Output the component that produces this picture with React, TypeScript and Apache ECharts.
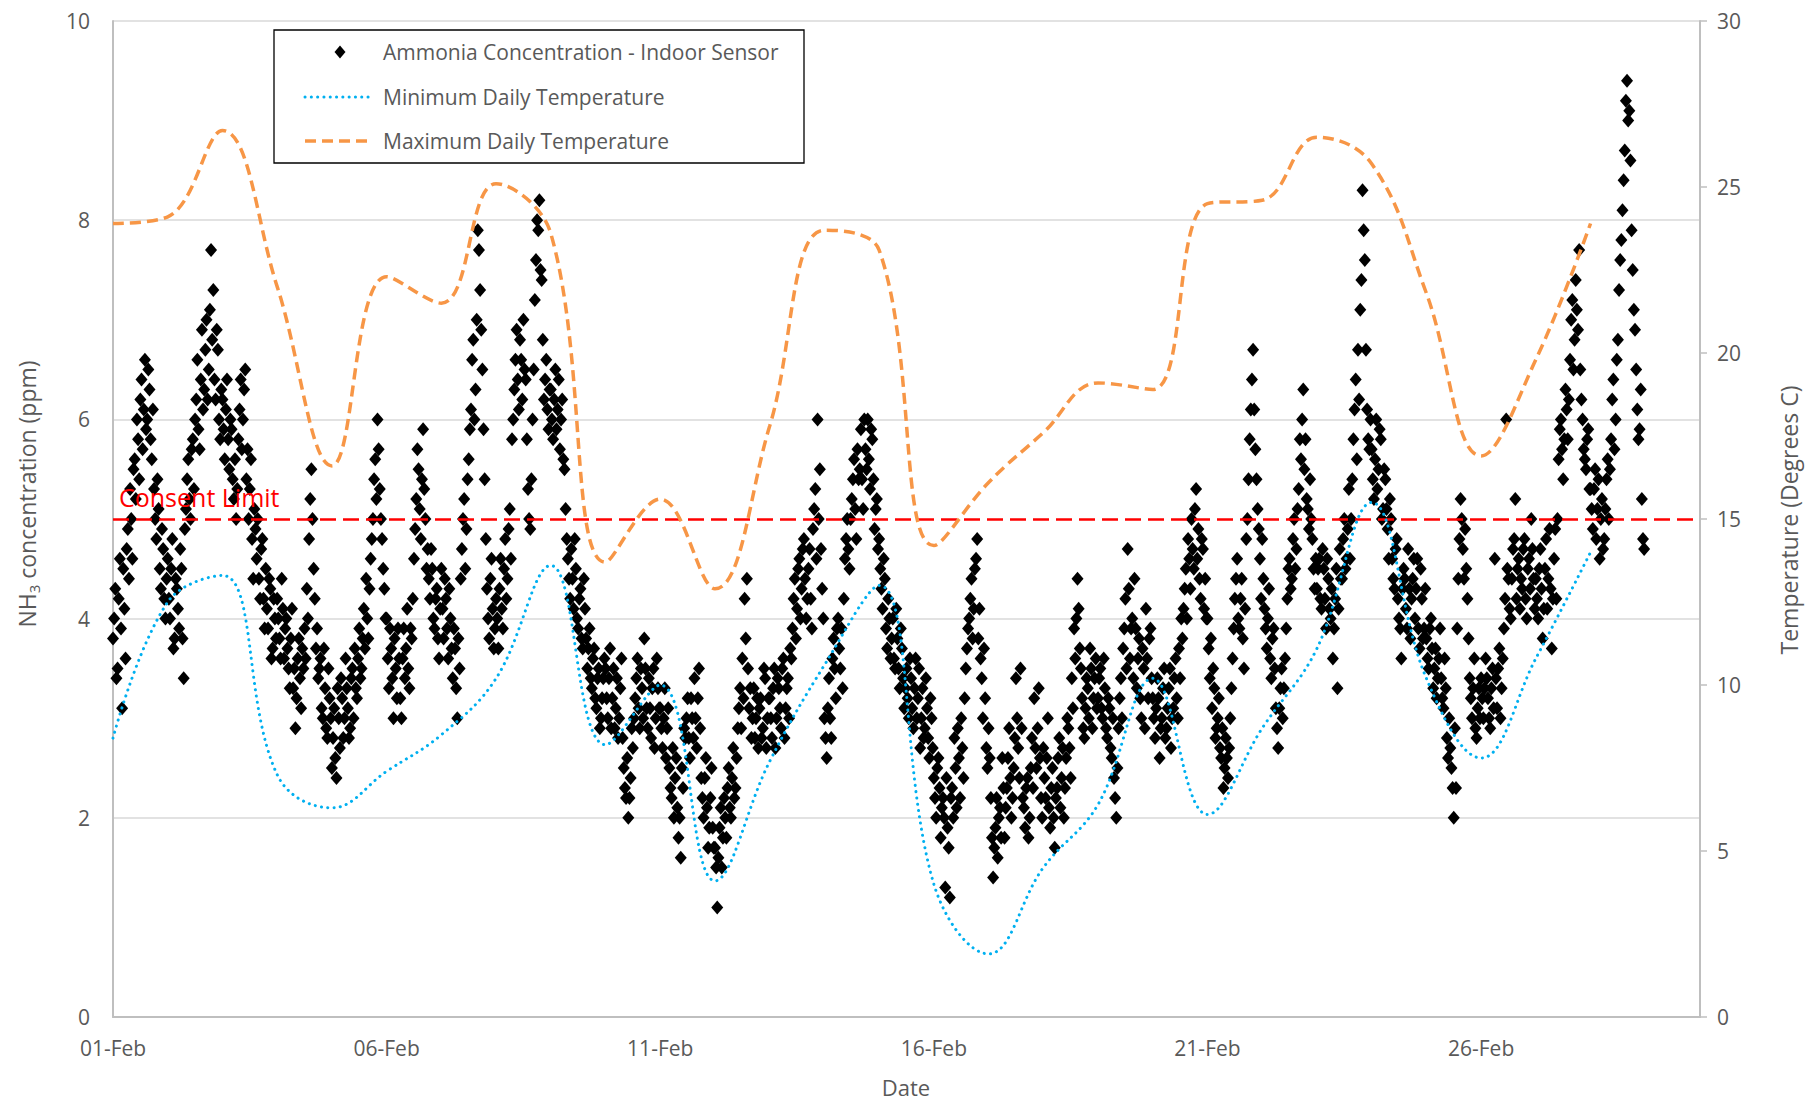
import React, { useEffect, useRef } from 'react';
import * as echarts from 'echarts';

const FONT = '"Open Sans", "Noto Sans", sans-serif';
const TEXT_COLOR = '#595959';

// x-axis tick labels (every 5 days starting 01-Feb)
const xTickLabels = ['01-Feb', '06-Feb', '11-Feb', '16-Feb', '21-Feb', '26-Feb'];

const seriesNames = [
  'Ammonia Concentration - Indoor Sensor',
  'Minimum Daily Temperature',
  'Maximum Daily Temperature',
];

// Daily temperatures (Degrees C), one value per day, 01-Feb .. 28-Feb
const maxDailyTemp = [23.9, 24.1, 26.7, 22.0, 16.6, 22.3, 21.5, 25.1, 23.6, 13.7, 15.6, 12.9, 17.8, 23.7,
  23.1, 14.2, 16.1, 17.6, 19.1, 18.9, 24.5, 24.6, 26.5, 25.7, 21.8, 16.9, 19.8, 23.9];
const minDailyTemp = [8.4, 12.5, 13.3, 7.3, 6.3, 7.4, 8.5, 10.2, 13.6, 8.2, 10.0, 4.1, 7.7, 10.6,
  13.0, 4.0, 1.9, 4.5, 6.4, 10.2, 6.1, 8.7, 11.1, 15.5, 10.2, 7.8, 10.8, 14.0];

// Consent limit for NH3 (ppm)
const consentLimit = 5;

// Half-hourly NH3 readings (ppm), 48 per day
const feb01 = [3.8, 4.0, 4.3, 3.4, 3.5, 4.2, 4.6, 3.9, 3.1, 4.5, 4.1, 3.6, 4.7, 4.9, 4.4, 5.3, 5.0, 4.6, 5.5, 5.6, 5.2, 6.0, 5.8, 5.4, 6.2, 6.4, 5.7, 6.1, 6.6, 5.9, 6.0, 6.5, 6.3, 5.8, 5.6, 6.1, 5.3, 5.0, 4.8, 5.4, 5.1, 4.5, 4.3, 4.9, 4.7, 4.2, 4.0, 4.4];
const feb02 = [4.6, 4.2, 4.0, 4.5, 4.8, 3.7, 3.8, 4.4, 4.3, 4.1, 3.9, 4.7, 4.5, 3.8, 3.4, 4.9, 5.1, 5.4, 5.6, 5.2, 5.0, 5.7, 5.8, 5.3, 6.0, 6.2, 6.6, 5.9, 5.7, 6.4, 6.9, 6.1, 6.3, 6.7, 7.0, 6.2, 6.5, 7.1, 7.7, 6.8, 7.3, 6.4, 6.2, 6.9, 6.7, 6.0, 5.8, 6.3];
const feb03 = [6.2, 5.9, 5.6, 6.1, 6.4, 5.8, 5.5, 6.0, 5.9, 5.4, 5.2, 5.6, 5.0, 5.3, 5.8, 6.1, 6.4, 5.7, 6.0, 6.3, 6.5, 5.4, 5.7, 5.0, 5.3, 5.6, 4.8, 4.4, 5.1, 4.9, 4.6, 5.0, 4.4, 4.2, 4.7, 4.8, 4.2, 3.9, 4.5, 4.1, 3.9, 4.4, 4.3, 3.6, 3.7, 4.2, 4.0, 3.8];
const feb04 = [4.2, 4.0, 3.8, 3.6, 4.4, 4.1, 3.6, 3.9, 4.0, 3.7, 3.5, 3.3, 3.8, 4.1, 3.3, 3.5, 2.9, 3.2, 3.6, 3.8, 3.4, 3.1, 3.7, 3.5, 3.9, 3.6, 4.3, 4.0, 4.8, 5.2, 5.5, 5.0, 4.5, 4.2, 3.7, 3.9, 3.4, 3.5, 3.6, 3.1, 3.0, 3.7, 3.3, 2.9, 2.8, 3.5, 3.2, 3.0];
const feb05 = [2.5, 2.8, 3.1, 2.6, 2.4, 3.3, 3.0, 2.7, 3.4, 3.2, 2.8, 3.0, 3.6, 3.3, 3.1, 2.8, 2.9, 3.4, 3.5, 3.0, 3.7, 3.3, 3.2, 3.6, 3.9, 3.4, 3.5, 3.8, 4.1, 3.7, 4.4, 4.0, 3.8, 4.3, 4.6, 4.8, 5.0, 5.4, 5.6, 5.2, 6.0, 5.7, 5.3, 5.0, 4.8, 4.5, 4.3, 4.0];
const feb06 = [4.0, 3.6, 3.3, 3.9, 3.7, 3.4, 3.0, 3.8, 3.5, 3.2, 3.9, 3.6, 3.2, 3.0, 3.6, 3.9, 3.4, 3.7, 4.1, 3.5, 3.3, 3.9, 3.8, 4.2, 4.6, 4.9, 5.2, 5.7, 5.5, 5.1, 4.8, 5.4, 5.9, 5.3, 5.0, 4.5, 4.7, 4.4, 4.2, 4.7, 4.5, 4.0, 3.9, 4.2, 4.3, 3.8, 3.6, 4.1];
const feb07 = [4.5, 4.1, 3.8, 4.4, 4.2, 3.9, 3.6, 4.3, 4.0, 3.7, 3.4, 3.9, 3.7, 3.3, 3.0, 3.8, 3.5, 4.4, 4.7, 5.0, 5.2, 4.5, 4.9, 5.4, 5.6, 5.9, 6.1, 6.6, 6.8, 6.0, 6.3, 7.0, 7.9, 7.7, 7.3, 6.9, 6.5, 5.9, 5.4, 4.8, 4.3, 4.0, 3.8, 4.4, 4.6, 4.1, 3.7, 3.9];
const feb08 = [4.2, 4.0, 3.7, 4.3, 4.6, 4.1, 3.9, 4.5, 4.8, 4.2, 4.4, 4.9, 5.1, 4.6, 5.8, 6.0, 6.3, 6.6, 6.9, 6.4, 6.1, 6.8, 6.6, 6.2, 7.0, 6.5, 6.4, 5.8, 5.3, 5.0, 4.9, 5.4, 6.0, 6.5, 7.2, 7.6, 8.0, 7.9, 8.2, 7.5, 7.4, 6.8, 6.2, 6.4, 6.6, 6.1, 5.9, 6.3];
const feb09 = [6.3, 6.0, 5.8, 6.2, 6.5, 5.9, 6.1, 6.4, 5.7, 6.0, 6.2, 5.6, 5.5, 5.1, 4.8, 4.6, 4.4, 4.2, 4.7, 4.4, 4.1, 4.8, 4.5, 4.0, 3.9, 4.2, 4.3, 3.8, 3.7, 4.4, 4.1, 3.8, 3.5, 3.7, 3.9, 3.4, 3.3, 3.6, 3.7, 3.2, 3.1, 3.4, 3.5, 2.9, 3.0, 3.2, 3.4, 3.6];
const feb10 = [3.5, 3.2, 3.0, 3.4, 3.7, 2.9, 3.2, 3.5, 2.9, 3.1, 3.4, 2.8, 3.0, 3.3, 3.6, 2.8, 2.5, 2.3, 2.2, 2.6, 2.0, 2.2, 2.4, 2.9, 2.7, 3.0, 3.2, 3.4, 3.6, 3.1, 2.9, 3.5, 3.3, 3.0, 3.8, 3.5, 3.1, 2.9, 3.4, 3.1, 2.8, 3.3, 3.5, 2.7, 3.0, 3.6, 3.3, 3.1];
const feb11 = [3.1, 2.9, 2.7, 3.0, 3.3, 2.6, 2.9, 3.1, 2.5, 2.3, 2.2, 2.7, 2.0, 2.4, 2.6, 2.1, 1.8, 2.0, 1.6, 2.5, 2.3, 2.9, 2.8, 3.0, 3.2, 2.8, 2.6, 3.2, 3.0, 2.8, 3.4, 3.0, 2.7, 3.2, 3.5, 2.9, 2.4, 2.2, 2.0, 2.4, 2.6, 2.1, 1.7, 1.9, 2.2, 2.5, 1.9, 1.7];
const feb12 = [1.7, 1.5, 1.1, 1.6, 1.9, 2.1, 1.5, 1.8, 2.2, 2.0, 1.8, 2.3, 2.5, 2.1, 2.0, 2.4, 2.7, 2.2, 2.3, 2.6, 2.9, 3.1, 3.3, 2.9, 3.6, 3.2, 4.2, 3.8, 4.4, 3.5, 3.1, 3.3, 2.8, 3.0, 3.3, 2.8, 3.0, 3.2, 2.7, 3.1, 3.2, 2.8, 2.9, 3.5, 3.4, 2.7, 3.0, 3.2];
const feb13 = [3.2, 3.0, 2.8, 3.3, 3.5, 2.7, 3.0, 3.4, 3.3, 3.1, 2.9, 3.5, 3.6, 2.8, 3.1, 3.3, 3.4, 3.0, 3.7, 3.6, 3.9, 4.2, 4.4, 3.8, 4.1, 4.5, 4.6, 4.0, 4.3, 4.7, 4.8, 4.4, 4.0, 4.2, 4.5, 4.7, 4.2, 3.9, 4.9, 5.1, 5.3, 4.6, 6.0, 5.0, 5.5, 4.7, 4.3, 4.0];
const feb14 = [3.0, 2.8, 2.6, 3.1, 3.4, 3.0, 2.8, 3.6, 3.8, 3.5, 3.2, 3.9, 4.0, 3.7, 3.5, 3.9, 3.3, 4.2, 4.6, 4.8, 5.0, 4.7, 4.5, 5.0, 5.2, 5.4, 5.6, 5.1, 4.8, 5.7, 5.4, 5.5, 5.9, 5.4, 5.1, 6.0, 5.7, 5.5, 6.0, 5.6, 5.3, 5.9, 5.8, 5.4, 4.9, 5.1, 5.2, 4.7];
const feb15 = [4.8, 4.5, 4.3, 4.1, 4.6, 4.4, 3.9, 3.7, 4.2, 4.0, 3.6, 3.8, 4.0, 3.6, 3.5, 4.1, 3.8, 3.5, 3.3, 3.9, 3.7, 3.4, 3.1, 3.3, 3.5, 3.2, 3.0, 3.6, 3.4, 3.1, 2.9, 3.3, 3.6, 3.0, 3.2, 3.5, 2.7, 3.0, 3.3, 2.8, 2.9, 3.4, 3.1, 2.8, 2.6, 3.2, 3.0, 2.7];
const feb16 = [2.4, 2.2, 2.0, 2.5, 2.6, 2.3, 1.8, 2.1, 2.2, 2.0, 1.3, 2.4, 1.9, 1.7, 1.2, 2.2, 2.3, 2.0, 2.8, 2.5, 2.1, 2.9, 2.6, 2.2, 3.0, 2.7, 2.4, 3.2, 3.5, 3.7, 3.9, 4.0, 4.2, 4.4, 3.8, 4.1, 4.5, 4.6, 4.8, 3.8, 4.1, 3.6, 3.4, 3.0, 3.7, 3.2, 2.7, 2.5];
const feb17 = [2.9, 2.6, 2.2, 1.8, 1.4, 1.7, 1.9, 2.2, 1.6, 2.0, 2.1, 1.8, 2.6, 2.3, 1.8, 2.1, 2.3, 2.6, 2.9, 2.4, 2.0, 2.2, 2.5, 2.8, 3.4, 3.0, 2.7, 2.4, 3.5, 2.9, 2.2, 2.1, 1.9, 2.3, 2.4, 1.8, 2.0, 2.5, 2.8, 2.3, 3.2, 2.7, 2.5, 2.9, 3.3, 2.6, 2.2, 2.0];
const feb18 = [2.7, 2.4, 2.2, 2.6, 3.0, 2.1, 1.9, 2.3, 2.5, 2.0, 1.7, 2.2, 2.3, 2.6, 2.8, 2.1, 2.4, 2.7, 2.0, 2.3, 2.6, 3.0, 2.9, 2.7, 2.4, 3.4, 3.1, 3.9, 3.6, 4.0, 4.4, 4.1, 3.7, 3.5, 3.2, 2.9, 2.8, 3.1, 3.4, 3.3, 3.0, 3.7, 3.5, 2.9, 3.2, 3.4, 3.6, 3.1];
const feb19 = [3.2, 3.4, 3.5, 3.1, 3.0, 3.6, 3.3, 2.9, 2.8, 3.2, 3.1, 2.7, 2.6, 3.0, 2.4, 2.2, 2.0, 2.5, 2.9, 3.2, 3.4, 3.0, 3.7, 3.9, 4.2, 3.5, 4.7, 4.3, 3.6, 3.9, 4.0, 3.4, 4.4, 3.9, 3.3, 3.6, 3.8, 3.2, 3.0, 3.7, 3.5, 2.9, 4.1, 3.6, 3.2, 3.8, 3.9, 3.4];
const feb20 = [3.2, 3.0, 2.8, 3.1, 3.4, 3.2, 2.6, 2.9, 3.0, 3.3, 3.5, 2.8, 2.9, 3.1, 3.3, 3.5, 2.7, 3.0, 3.1, 3.4, 3.6, 3.2, 3.0, 3.7, 3.4, 4.0, 3.8, 4.1, 4.3, 4.5, 4.0, 4.8, 4.6, 4.3, 5.0, 4.7, 4.5, 5.1, 5.3, 4.6, 4.9, 4.4, 4.2, 4.8, 4.7, 4.1, 4.4, 4.0];
const feb21 = [4.0, 3.7, 3.4, 3.8, 3.1, 3.5, 3.3, 2.8, 2.9, 3.0, 3.2, 2.7, 2.6, 2.9, 2.3, 2.5, 2.8, 2.6, 2.4, 2.7, 3.0, 3.3, 3.6, 3.9, 4.2, 4.4, 4.6, 4.0, 3.9, 4.2, 4.4, 3.8, 3.5, 4.1, 4.8, 5.0, 5.4, 5.8, 6.1, 6.4, 6.7, 6.1, 5.7, 5.4, 5.1, 4.9, 4.6, 4.2];
const feb22 = [4.8, 4.4, 4.1, 3.9, 3.7, 4.0, 4.3, 3.6, 3.4, 3.8, 3.9, 3.5, 3.1, 2.9, 2.7, 3.1, 3.3, 3.5, 3.0, 3.3, 3.6, 3.9, 4.2, 4.5, 4.6, 4.3, 4.4, 4.8, 5.0, 4.5, 4.7, 5.1, 5.3, 5.8, 5.6, 6.0, 6.3, 5.5, 5.8, 5.2, 5.1, 4.9, 5.4, 5.0, 4.8, 4.5, 4.3, 4.6];
const feb23 = [4.3, 4.5, 4.6, 4.2, 4.1, 4.7, 4.5, 4.2, 3.9, 4.6, 4.4, 4.1, 4.0, 4.3, 3.6, 3.9, 4.2, 4.5, 3.3, 4.1, 4.7, 4.4, 4.4, 4.8, 5.0, 4.5, 4.6, 4.9, 5.3, 4.6, 5.0, 5.4, 5.8, 6.1, 6.4, 5.6, 6.7, 6.2, 7.1, 7.4, 8.3, 7.9, 7.6, 6.7, 6.1, 5.8, 5.7, 6.0];
const feb24 = [5.7, 5.4, 5.2, 5.6, 6.0, 5.3, 5.5, 5.9, 5.8, 5.0, 5.1, 5.5, 5.4, 5.1, 4.9, 4.6, 5.2, 5.0, 4.6, 4.4, 4.3, 4.7, 4.8, 4.2, 4.0, 3.9, 3.6, 4.3, 4.5, 4.4, 4.1, 3.9, 4.7, 4.3, 3.8, 4.2, 4.4, 4.6, 4.0, 4.3, 4.6, 3.9, 3.7, 4.5, 4.2, 3.8, 3.9, 4.3];
const feb25 = [3.8, 3.6, 3.5, 3.9, 4.0, 3.7, 3.3, 3.5, 3.7, 3.2, 3.4, 3.6, 3.9, 3.4, 3.2, 3.1, 3.6, 3.3, 2.8, 2.6, 3.0, 2.7, 2.5, 2.3, 2.0, 2.9, 2.3, 3.9, 4.4, 4.8, 5.2, 5.0, 4.7, 4.4, 4.9, 4.5, 4.2, 3.8, 3.4, 3.2, 3.0, 3.3, 3.6, 2.9, 2.8, 3.1, 3.3, 3.0];
const feb26 = [3.4, 3.2, 3.0, 3.3, 3.6, 3.4, 3.2, 3.0, 2.9, 3.3, 3.5, 3.1, 4.6, 3.4, 3.1, 3.5, 3.7, 3.0, 3.3, 3.6, 3.9, 4.2, 6.0, 4.5, 4.4, 4.1, 4.0, 4.4, 4.7, 4.8, 5.2, 4.2, 4.5, 4.6, 4.1, 4.4, 4.3, 4.7, 4.8, 4.2, 4.0, 4.5, 4.6, 4.3, 5.0, 4.7, 4.4, 4.1];
const feb27 = [4.4, 4.2, 4.0, 4.5, 4.7, 4.3, 3.8, 4.1, 4.5, 4.8, 4.1, 4.4, 4.9, 4.3, 3.7, 4.2, 4.6, 4.9, 4.2, 5.0, 5.6, 5.9, 6.0, 5.7, 5.4, 5.8, 6.3, 6.1, 5.8, 6.2, 6.6, 7.0, 7.2, 6.5, 6.8, 7.4, 7.1, 6.9, 7.7, 6.5, 6.2, 6.0, 5.7, 5.6, 5.5, 5.8, 5.9, 5.3];
const feb28 = [5.3, 5.1, 4.9, 5.3, 5.5, 4.8, 5.1, 5.4, 4.6, 5.0, 5.2, 4.7, 4.8, 5.1, 5.4, 5.6, 5.0, 5.5, 5.8, 6.2, 6.4, 5.7, 6.0, 6.6, 6.8, 7.3, 7.6, 7.8, 8.1, 8.4, 8.7, 9.2, 9.4, 9.0, 9.1, 8.6, 7.9, 7.5, 7.1, 6.9, 6.5, 6.1, 5.8, 5.9, 6.3, 5.2, 4.8, 4.7];

const ammoniaByDay = [feb01, feb02, feb03, feb04, feb05, feb06, feb07, feb08, feb09, feb10, feb11, feb12, feb13, feb14,
  feb15, feb16, feb17, feb18, feb19, feb20, feb21, feb22, feb23, feb24, feb25, feb26, feb27, feb28];

export default function App() {
  const ref = useRef<HTMLDivElement>(null);

  useEffect(() => {
    if (!ref.current) return;
    const chart = echarts.init(ref.current, null, { renderer: 'svg' });

    const scatterData = ammoniaByDay.flatMap((vals, d) => vals.map((v, i) => [d + i / vals.length, v]));
    const minData = minDailyTemp.map((t, d) => [d, t]);
    const maxData = maxDailyTemp.map((t, d) => [d, t]);

    const legendRows = [52, 97, 141];

    const option: any = {
      animation: false,
      backgroundColor: '#ffffff',
      textStyle: { fontFamily: FONT },
      grid: { left: 113, right: 107, top: 21, bottom: 85 },
      xAxis: {
        type: 'value',
        min: 0,
        max: 29,
        interval: 5,
        axisLine: { show: true, onZero: false, lineStyle: { color: '#bfbfbf', width: 2 } },
        axisTick: { show: false },
        splitLine: { show: false },
        axisLabel: {
          margin: 20,
          fontSize: 21,
          color: TEXT_COLOR,
          fontFamily: FONT,
          showMaxLabel: false,
          formatter: (v: number) => (Number.isInteger(v / 5) ? xTickLabels[v / 5] ?? '' : ''),
        },
      },
      yAxis: [
        {
          type: 'value',
          min: 0,
          max: 10,
          interval: 2,
          position: 'left',
          axisLine: { show: true, onZero: false, lineStyle: { color: '#bfbfbf', width: 2 } },
          axisTick: { show: false },
          splitLine: { show: true, lineStyle: { color: '#d9d9d9', width: 1.5 } },
          axisLabel: { margin: 23, fontSize: 21, color: TEXT_COLOR, fontFamily: FONT },
        },
        {
          type: 'value',
          min: 0,
          max: 30,
          interval: 5,
          position: 'right',
          axisLine: { show: true, onZero: false, lineStyle: { color: '#bfbfbf', width: 2 } },
          axisTick: { show: true, inside: false, length: 7, lineStyle: { color: '#bfbfbf', width: 1.5 } },
          splitLine: { show: false },
          axisLabel: { margin: 17, fontSize: 21, color: TEXT_COLOR, fontFamily: FONT },
        },
      ],
      series: [
        {
          name: seriesNames[0],
          type: 'scatter',
          xAxisIndex: 0,
          yAxisIndex: 0,
          symbol: 'diamond',
          symbolSize: [12, 14],
          itemStyle: { color: '#000000', opacity: 1 },
          data: scatterData,
          z: 3,
          markLine: {
            silent: true,
            symbol: ['none', 'none'],
            lineStyle: { color: '#ff0000', width: 2.5, type: [16, 7] },
            label: {
              show: true,
              position: 'insideStartTop',
              formatter: 'Consent Limit',
              color: '#ff0000',
              fontSize: 25,
              fontFamily: FONT,
              distance: [6, 10],
            },
            data: [{ yAxis: consentLimit }],
          },
        },
        {
          name: seriesNames[1],
          type: 'line',
          xAxisIndex: 0,
          yAxisIndex: 1,
          smooth: 0.4,
          symbol: 'none',
          showSymbol: false,
          z: 5,
          itemStyle: { color: '#00b0f0' },
          lineStyle: { color: '#00b0f0', width: 3, type: [0.1, 6.2], cap: 'round' },
          data: minData,
        },
        {
          name: seriesNames[2],
          type: 'line',
          xAxisIndex: 0,
          yAxisIndex: 1,
          smooth: 0.4,
          symbol: 'none',
          showSymbol: false,
          z: 5,
          itemStyle: { color: '#f79646' },
          lineStyle: { color: '#f79646', width: 3.5, type: [11, 6] },
          data: maxData,
        },
      ],
      graphic: [
        // Legend
        {
          type: 'group',
          z: 100,
          children: [
            {
              type: 'rect',
              shape: { x: 274, y: 30, width: 530, height: 133 },
              style: { fill: '#ffffff', stroke: '#000000', lineWidth: 1.3 },
            },
            {
              type: 'polygon',
              shape: { points: [[340, legendRows[0] - 6.5], [345.5, legendRows[0]], [340, legendRows[0] + 6.5], [334.5, legendRows[0]]] },
              style: { fill: '#000000' },
            },
            {
              type: 'line',
              shape: { x1: 305, y1: legendRows[1], x2: 371, y2: legendRows[1] },
              style: { stroke: '#00b0f0', lineWidth: 3, lineDash: [0.1, 6.2], lineCap: 'round' },
            },
            {
              type: 'line',
              shape: { x1: 305, y1: legendRows[2], x2: 371, y2: legendRows[2] },
              style: { stroke: '#f79646', lineWidth: 3.5, lineDash: [11, 6] },
            },
            ...seriesNames.map((name, i) => ({
              type: 'text',
              x: 383,
              y: legendRows[i],
              style: {
                text: name,
                align: 'left',
                verticalAlign: 'middle',
                fontSize: 21,
                fontFamily: FONT,
                fill: TEXT_COLOR,
              },
            })),
          ],
        },
        // Axis titles
        {
          type: 'text',
          x: 27,
          y: 494,
          rotation: Math.PI / 2,
          style: {
            text: '{a|NH}{s|3}{a| concentration (ppm)}',
            align: 'center',
            verticalAlign: 'middle',
            rich: {
              a: { fontSize: 23, fontFamily: FONT, fill: TEXT_COLOR, lineHeight: 28 },
              s: { fontSize: 15, fontFamily: FONT, fill: TEXT_COLOR, lineHeight: 15, verticalAlign: 'bottom' },
            },
          },
        },
        {
          type: 'text',
          x: 1789,
          y: 520,
          rotation: Math.PI / 2,
          style: {
            text: 'Temperature (Degrees C)',
            align: 'center',
            verticalAlign: 'middle',
            fontSize: 23,
            fontFamily: FONT,
            fill: TEXT_COLOR,
          },
        },
        {
          type: 'text',
          x: 906,
          y: 1087,
          style: {
            text: 'Date',
            align: 'center',
            verticalAlign: 'middle',
            fontSize: 22,
            fontFamily: FONT,
            fill: TEXT_COLOR,
          },
        },
      ],
    };

    chart.setOption(option);
    return () => {
      chart.dispose();
    };
  }, []);

  return (
    <div
      ref={ref}
      style={{ position: 'fixed', left: 0, top: 0, width: 1807, height: 1102, background: '#ffffff' }}
    />
  );
}
